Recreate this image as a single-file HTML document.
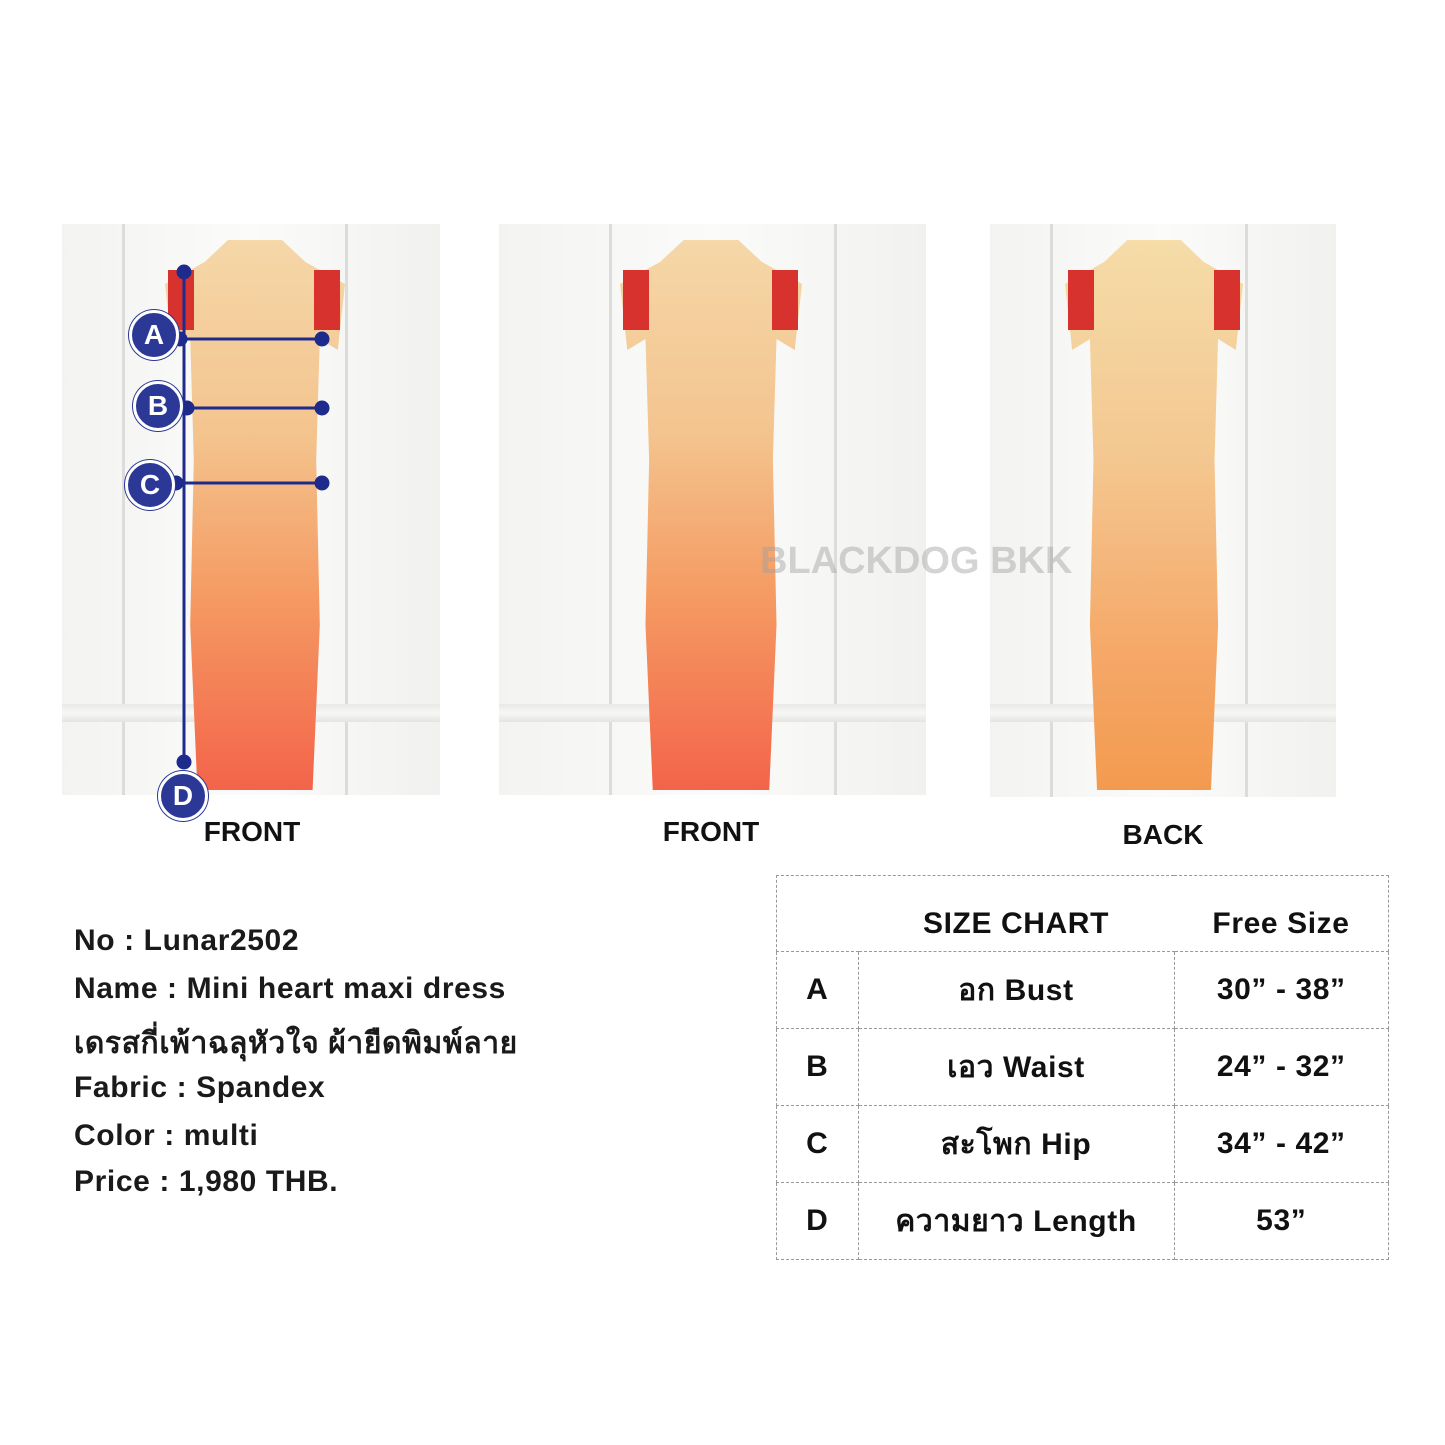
<!DOCTYPE html>
<html><head><meta charset="utf-8"><style>
body{margin:0;width:1445px;height:1445px;background:#fff;position:relative;overflow:hidden;font-family:"Liberation Sans","Noto Sans CJK SC",sans-serif}
.ph{position:absolute;background:linear-gradient(90deg,#f3f3f1,#fbfbfa 50%,#f1f1ef);overflow:hidden}
.vl{position:absolute;top:0;bottom:0;width:3px;background:#dcdcda}
.rail{position:absolute;left:0;right:0;height:18px;background:linear-gradient(#e8e8e6,#f7f7f5,#e4e4e2)}
.dress{position:absolute;background:linear-gradient(#f5d7a8 0%,#f4c48e 35%,#f59a62 65%,#f3644a 100%);clip-path:polygon(35% 0,65% 0,78% 4%,100% 8%,96% 20%,86% 18%,84% 40%,86% 70%,82% 100%,18% 100%,14% 70%,16% 40%,14% 18%,4% 20%,0 8%,22% 4%)}
.sl{position:absolute;background:#d8322e;width:26px;height:60px}
.lab{position:absolute;font-weight:bold;font-size:28px;color:#111;transform:translateX(-50%)}
.info{position:absolute;left:74px;font-size:30px;font-weight:bold;color:#1a1a1a;letter-spacing:0.6px}
table{position:absolute;left:776px;top:875px;border-collapse:collapse;font-size:30px;font-weight:bold;color:#111;letter-spacing:0.6px}
td{border:1px dashed #999;text-align:center;height:75px;padding:0}
.c{position:absolute;border-radius:50%;background:#2b3896;border:3px solid #fff;box-shadow:0 0 0 1px #2b3896;color:#fff;font-weight:bold;font-size:28px;text-align:center;width:44px;height:44px;line-height:44px}
</style></head><body>
<div class="ph" style="left:62px;top:224px;width:378px;height:571px"><div class="vl" style="left:60px"></div><div class="vl" style="left:283px"></div><div class="rail" style="top:480px"></div></div>
<div class="ph" style="left:499px;top:224px;width:427px;height:571px"><div class="vl" style="left:110px"></div><div class="vl" style="left:335px"></div><div class="rail" style="top:480px"></div></div>
<div class="ph" style="left:990px;top:224px;width:346px;height:573px"><div class="vl" style="left:60px"></div><div class="vl" style="left:255px"></div><div class="rail" style="top:480px"></div></div>
<div class="dress" style="left:165px;top:240px;width:180px;height:550px"></div>
<div class="dress" style="left:620px;top:240px;width:182px;height:550px"></div>
<div class="dress" style="left:1065px;top:240px;width:178px;height:550px;background:linear-gradient(#f5dca8,#f4c790 40%,#f5a868 75%,#f39a50)"></div>
<div class="sl" style="left:168px;top:270px"></div><div class="sl" style="left:314px;top:270px"></div>
<div class="sl" style="left:623px;top:270px"></div><div class="sl" style="left:772px;top:270px"></div>
<div class="sl" style="left:1068px;top:270px"></div><div class="sl" style="left:1214px;top:270px"></div>
<div style="position:absolute;left:760px;top:540px;font-size:38px;font-weight:bold;color:rgba(160,160,160,0.45)">BLACKDOG BKK</div>
<svg style="position:absolute;left:0;top:0" width="1445" height="1445">
<g stroke="#1e2b8c" stroke-width="3" fill="#1e2b8c">
<line x1="184" y1="272" x2="184" y2="762"/>
<line x1="175" y1="339" x2="322" y2="339"/><line x1="185" y1="408" x2="322" y2="408"/><line x1="175" y1="483" x2="322" y2="483"/>
<circle cx="184" cy="272" r="6"/><circle cx="184" cy="762" r="6"/>
<circle cx="322" cy="339" r="6"/><circle cx="322" cy="408" r="6"/><circle cx="322" cy="483" r="6"/>
<circle cx="180" cy="339" r="6"/><circle cx="187" cy="408" r="6"/><circle cx="176" cy="483" r="6"/>
</g></svg>
<div class="c" style="left:129px;top:310px">A</div>
<div class="c" style="left:133px;top:381px">B</div>
<div class="c" style="left:125px;top:460px">C</div>
<div class="c" style="left:158px;top:771px">D</div>
<div class="lab" style="left:252px;top:816px">FRONT</div>
<div class="lab" style="left:711px;top:816px">FRONT</div>
<div class="lab" style="left:1163px;top:819px">BACK</div>
<div class="info" style="top:924px">No : Lunar2502</div>
<div class="info" style="top:972px">Name : Mini heart maxi dress</div>
<div class="info" style="top:1020px">เดรสกี่เพ้าฉลุหัวใจ ผ้ายืดพิมพ์ลาย</div>
<div class="info" style="top:1071px">Fabric : Spandex</div>
<div class="info" style="top:1119px">Color : multi</div>
<div class="info" style="top:1165px">Price : 1,980 THB.</div>
<table>
<tr><td style="width:81px;border-right:none;padding-top:22px;height:53px"></td><td style="width:316px;border-left:none;border-right:none;padding-top:20px;height:55px">SIZE CHART</td><td style="width:214px;border-left:none;padding-top:20px;height:55px">Free Size</td></tr>
<tr><td style="height:76px">A</td><td>อก Bust</td><td>30” - 38”</td></tr>
<tr><td style="height:76px">B</td><td>เอว Waist</td><td>24” - 32”</td></tr>
<tr><td style="height:76px">C</td><td>สะโพก Hip</td><td>34” - 42”</td></tr>
<tr><td style="height:76px">D</td><td>ความยาว Length</td><td>53”</td></tr>
</table>
</body></html>
